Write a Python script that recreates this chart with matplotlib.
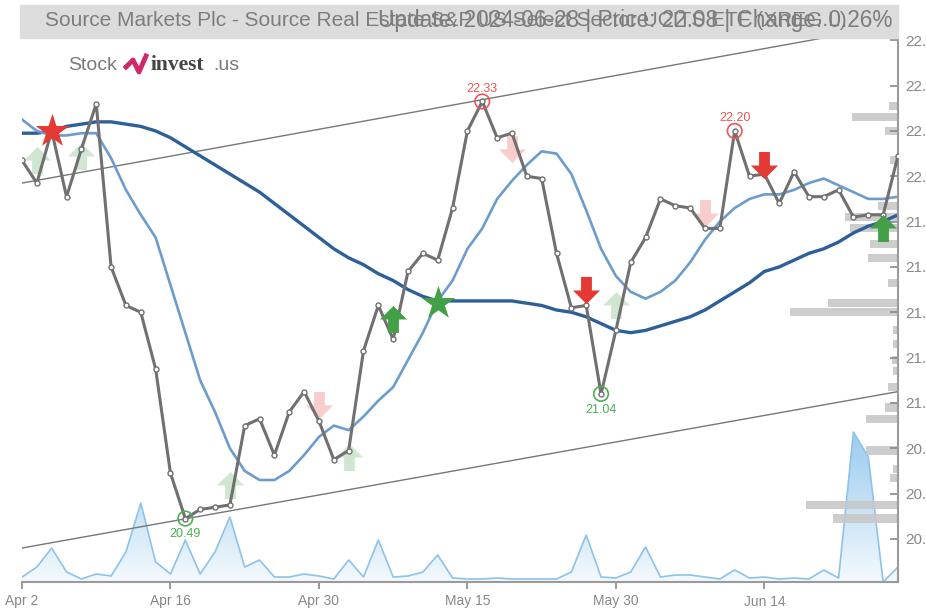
import numpy as np
import matplotlib
matplotlib.use("Agg")
import matplotlib.pyplot as plt
from matplotlib.path import Path
from matplotlib.patches import Rectangle
from matplotlib.colors import LinearSegmentedColormap

# DATA ==========================================================
price = [22.07, 21.97, 22.20, 21.91, 22.12, 22.32, 21.60, 21.43, 21.40, 21.15,
         20.69, 20.49, 20.53, 20.54, 20.55, 20.90, 20.93, 20.77, 20.96, 21.05,
         20.92, 20.75, 20.79, 21.23, 21.43, 21.28, 21.58, 21.66, 21.63, 21.86,
         22.20, 22.33, 22.17, 22.19, 22.00, 21.99, 21.66, 21.42, 21.43, 21.04,
         21.32, 21.62, 21.73, 21.90, 21.87, 21.86, 21.77, 21.77, 22.20, 22.00,
         22.01, 21.88, 22.02, 21.91, 21.91, 21.94, 21.82, 21.83, 21.83, 22.09]

ma_short = [22.25, 22.20, 22.18, 22.18, 22.19, 22.19, 22.08, 21.94, 21.83, 21.73,
            21.52, 21.31, 21.10, 20.96, 20.80, 20.70, 20.66, 20.66, 20.70, 20.77,
            20.85, 20.90, 20.88, 20.94, 21.01, 21.07, 21.19, 21.31, 21.45, 21.54,
            21.68, 21.77, 21.90, 21.98, 22.05, 22.11, 22.10, 22.01, 21.85, 21.68,
            21.56, 21.49, 21.46, 21.49, 21.54, 21.62, 21.72, 21.80, 21.86, 21.90,
            21.92, 21.92, 21.94, 21.97, 21.99, 21.96, 21.93, 21.90, 21.90, 21.91]

ma_long = [22.19, 22.19, 22.20, 22.22, 22.23, 22.24, 22.24, 22.23, 22.22, 22.20,
           22.17, 22.13, 22.09, 22.05, 22.01, 21.97, 21.93, 21.88, 21.83, 21.78,
           21.73, 21.68, 21.64, 21.61, 21.57, 21.54, 21.50, 21.47, 21.45, 21.45,
           21.45, 21.45, 21.45, 21.45, 21.44, 21.43, 21.41, 21.40, 21.38, 21.35,
           21.32, 21.31, 21.32, 21.34, 21.36, 21.38, 21.41, 21.45, 21.49, 21.53,
           21.58, 21.60, 21.63, 21.66, 21.68, 21.71, 21.75, 21.78, 21.80, 21.83]

volume = [5, 15, 34, 10, 3, 8, 6, 30, 79, 20,
          8, 42, 8, 30, 65, 15, 22, 5, 5, 8,
          6, 3, 22, 5, 42, 5, 6, 10, 27, 4,
          3, 3, 4, 3, 3, 3, 3, 10, 47, 5,
          4, 10, 35, 5, 7, 7, 5, 3, 12, 4,
          5, 3, 4, 3, 12, 4, 150, 125, 0, 15]

tick_idx = [0, 10, 20, 30, 40, 50]
tick_labels = ["Apr 2", "Apr 16", "Apr 30", "May 15", "May 30", "Jun 14"]
price_ticks = [20.4, 20.6, 20.8, 21.0, 21.2, 21.4, 21.6, 21.8, 22.0, 22.2, 22.4, 22.6]

# volume by price (right side)
prof_price = [22.31, 22.26, 22.20, 22.07, 21.87, 21.82, 21.77, 21.70, 21.64, 21.53,
              21.44, 21.40, 21.32, 21.26, 21.19, 21.14, 21.07, 20.98, 20.93, 20.79,
              20.71, 20.67, 20.55, 20.49]
prof_vol = [9, 46, 13, 8, 20, 53, 48, 28, 30, 10,
            70, 108, 5, 5, 6, 5, 10, 13, 32, 32,
            5, 8, 92, 65]

# trend channel
chan_x = [0, 59]
chan_upper = [21.97, 22.67]
chan_lower = [20.36, 21.05]

# signals
stars_red = ([2], [22.20])
stars_green = ([28], [21.44])
up_strong = ([25, 58], [21.37, 21.77])
down_strong = ([38, 50], [21.50, 22.05])
up_weak = ([1, 4, 14, 22, 40], [22.07, 22.09, 20.64, 20.76, 21.43])
down_weak = ([20, 33, 46], [20.99, 22.12, 21.84])
highs = ([31, 48], [22.33, 22.20])
lows = ([11, 39], [20.49, 21.04])

title_left = "Source Markets Plc - Source Real Estate S&P US Select Sector UCITS ETF (XREG.L)"
title_right = "Update: 2024-06-28 | Price: 22.08 | Change: 0.26%"

SANS = ["Liberation Sans", "DejaVu Sans"]
GREEN = "#43a047"
RED = "#e53935"

# FIGURE ==========================================================
fig = plt.figure(figsize=(9.26, 6.08), dpi=100)
rect = [22 / 926, 26 / 608, 876 / 926, 544 / 608]
ylo, yhi = 20.21, 22.61
idx = np.arange(len(price))

# volume area
axv = fig.add_axes(rect)
axv.axis("off")
poly = axv.fill_between(idx, volume, 0, color="none")
cmap = LinearSegmentedColormap.from_list("vol", ["#f4f9fd", "#8fc5ec"])
grad = np.linspace(0, 1, 256).reshape(-1, 1)
im = axv.imshow(grad, extent=[0, 59, 0, 170], origin="lower", aspect="auto", cmap=cmap)
im.set_clip_path(poly.get_paths()[0], transform=axv.transData)
axv.plot(idx, volume, color="#8cc3ea", lw=1.2)
axv.set_xlim(0, 59)
axv.set_ylim(0, 544)

# volume by price
axp = fig.add_axes(rect)
axp.set_xlim(876, 0)
axp.set_ylim(ylo, yhi)
axp.axis("off")
axp.barh(prof_price, prof_vol, height=0.036, color="#c8c8c8", alpha=0.9)

# main price axes
ax = fig.add_axes(rect)
ax.patch.set_visible(False)
ax.set_xlim(0, 59)
ax.set_ylim(ylo, yhi)

ax.plot(chan_x, chan_upper, color="#777777", lw=1)
ax.plot(chan_x, chan_lower, color="#777777", lw=1)
ax.plot(idx, ma_long, color="#2d5f98", lw=2.4)
ax.plot(idx, ma_short, color="#6b9ccd", lw=1.9)
ax.plot(idx, price, color="#707070", lw=2.2, marker="o", ms=3.6,
        mfc="white", mec="#707070", mew=1.0, zorder=4)

up = Path([(-0.2, -0.5), (0.2, -0.5), (0.2, 0.0), (0.5, 0.0), (0, 0.5),
           (-0.5, 0.0), (-0.2, 0.0), (-0.2, -0.5)], closed=True)
down = Path([(-0.2, 0.5), (0.2, 0.5), (0.2, 0.0), (0.5, 0.0), (0, -0.5),
             (-0.5, 0.0), (-0.2, 0.0), (-0.2, 0.5)], closed=True)

ax.scatter(*up_weak, marker=up, s=380, color=GREEN, alpha=0.25, lw=0, zorder=3)
ax.scatter(*down_weak, marker=down, s=380, color=RED, alpha=0.25, lw=0, zorder=3)
ax.scatter(*up_strong, marker=up, s=380, color=GREEN, lw=0, zorder=5)
ax.scatter(*down_strong, marker=down, s=380, color=RED, lw=0, zorder=5)
ax.scatter(*stars_red, marker="*", s=650, color=RED, lw=0, zorder=5)
ax.scatter(*stars_green, marker="*", s=650, color=GREEN, lw=0, zorder=5)

ax.scatter(*highs, s=110, facecolor="none", edgecolor="#f05454", lw=1.2, zorder=6)
ax.scatter(*lows, s=110, facecolor="none", edgecolor="#4caf50", lw=1.2, zorder=6)
for i, p in zip(*highs):
    ax.annotate(f"{p:.2f}", (i, p), xytext=(0, 5), textcoords="offset points",
                ha="center", va="bottom", color="#f05454", fontsize=9, family=SANS)
for i, p in zip(*lows):
    ax.annotate(f"{p:.2f}", (i, p), xytext=(0, -7), textcoords="offset points",
                ha="center", va="top", color="#4caf50", fontsize=9, family=SANS)

# axes styling
for s in ["left", "top"]:
    ax.spines[s].set_visible(False)
for s in ["right", "bottom"]:
    ax.spines[s].set_color("#9a9a9a")
    ax.spines[s].set_linewidth(1.5)
ax.yaxis.tick_right()
ax.set_yticks(price_ticks)
ax.set_yticklabels([f"{t:.1f}" for t in price_ticks], family=SANS)
ax.tick_params(axis="y", direction="in", length=6, width=1.2, color="#888888",
               labelcolor="#888888", labelsize=11, pad=5)
ax.set_xticks(tick_idx)
ax.set_xticklabels(tick_labels, family=SANS)
ax.tick_params(axis="x", direction="out", length=5, width=1.2, color="#888888",
               labelcolor="#888888", labelsize=10, pad=4)

# header band
fig.patches.append(Rectangle((20 / 926, 570 / 608), 878 / 926, 33 / 608,
                             transform=fig.transFigure, color="#dcdcdc", zorder=0))
fig.text(45 / 926, 587 / 608, title_left, ha="left", va="center", fontsize=15,
         color="#7d7d7d", family=SANS)
fig.text(892 / 926, 587 / 608, title_right, ha="right", va="center", fontsize=16.3,
         color="#7d7d7d", family=SANS)

# logo
fig.text(68 / 926, 543 / 608, "Stock", ha="left", va="center", fontsize=14,
         color="#7a7a7a", family=SANS)
fig.lines.append(plt.Line2D([126 / 926, 133 / 926, 139 / 926, 146 / 926],
                            [541 / 608, 548 / 608, 536 / 608, 552 / 608],
                            transform=fig.transFigure, color="#d4266b", lw=3.5))
fig.text(151 / 926, 543 / 608, "invest", ha="left", va="center", fontsize=15.5,
         color="#444444", weight="bold", family=["Liberation Serif", "DejaVu Serif"])
fig.text(213 / 926, 543 / 608, ".us", ha="left", va="center", fontsize=14,
         color="#7a7a7a", family=SANS)

fig.savefig("out.png", dpi=100, facecolor="white")
